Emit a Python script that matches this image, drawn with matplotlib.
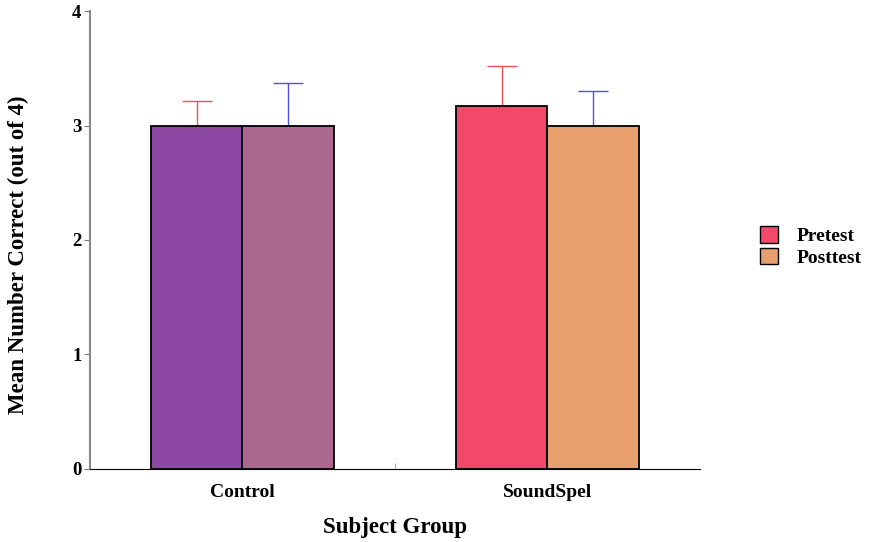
import numpy as np
import matplotlib
matplotlib.use("Agg")
import matplotlib.pyplot as plt
from matplotlib.patches import Patch

# Données
groups = ["Control", "SoundSpel"]
pretest = [3.0, 3.17]
posttest = [3.0, 3.0]
pre_err = [0.21, 0.35]
post_err = [0.37, 0.30]

pre_colors = ["#8C48A2", "#F2496A"]
post_colors = ["#AD6890", "#E89F6E"]

plt.rcParams["font.family"] = ["Liberation Serif", "DejaVu Serif"]
plt.rcParams["font.weight"] = "bold"

fig = plt.figure(figsize=(8.7, 5.42), dpi=100)
ax = fig.add_axes([0.1034, 0.1347, 0.7012, 0.845])

x = np.arange(len(groups)) + 0.5
w = 0.3

ax.bar(x - w / 2, pretest, w, color=pre_colors, edgecolor="black", linewidth=1.3, zorder=3)
ax.bar(x + w / 2, posttest, w, color=post_colors, edgecolor="black", linewidth=1.3, zorder=3)

# barres d'erreur (partie haute seulement)
ax.errorbar(x - w / 2, pretest, yerr=[np.zeros(2), pre_err], fmt="none",
            ecolor="#F0505A", elinewidth=1, capsize=11, capthick=1, zorder=2)
ax.errorbar(x + w / 2, posttest, yerr=[np.zeros(2), post_err], fmt="none",
            ecolor="#5050E8", elinewidth=1, capsize=11, capthick=1, zorder=2)

ax.set_xlim(0, 2)
ax.set_ylim(0, 4)
ax.set_yticks([0, 1, 2, 3, 4])
ax.set_xticks(x)
ax.set_xticklabels(groups)
ax.set_xticks([1], minor=True)
ax.tick_params(axis="x", which="major", length=0, pad=11, labelsize=14)
ax.tick_params(axis="x", which="minor", length=4, color="#999999", direction="in")
ax.tick_params(axis="y", length=4, color="#777777", labelsize=13.5, pad=2)

for s in ["top", "right"]:
    ax.spines[s].set_visible(False)
ax.spines["left"].set_color("#888888")
ax.spines["left"].set_linewidth(1.5)
ax.spines["bottom"].set_color("black")

ax.set_ylabel("Mean Number Correct (out of 4)", fontsize=16.5, fontweight="bold")
ax.yaxis.set_label_coords(-0.1, 0.467)
ax.set_xlabel("Subject Group", fontsize=16.5, fontweight="bold", labelpad=11)

handles = [Patch(facecolor="#F2496A", edgecolor="black", label="Pretest"),
           Patch(facecolor="#E89F6E", edgecolor="black", label="Posttest")]
fig.legend(handles=handles, loc="center left", bbox_to_anchor=(0.865, 0.545),
           frameon=False, fontsize=14, handlelength=0.9, handleheight=0.9,
           handletextpad=0.95, labelspacing=0.15, borderaxespad=0)

fig.savefig("out.png", dpi=100)
